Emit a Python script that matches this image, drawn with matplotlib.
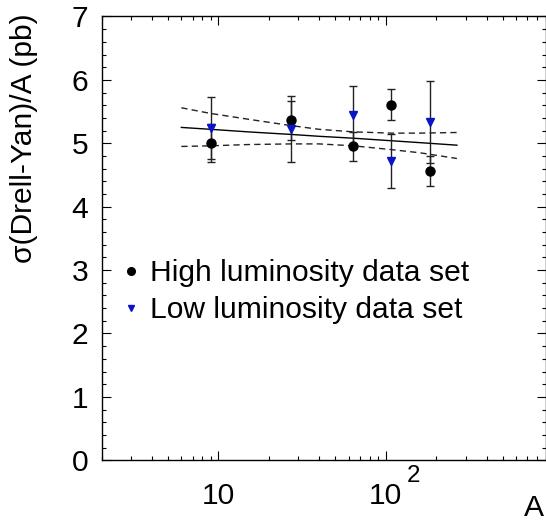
import numpy as np
import matplotlib
matplotlib.use("Agg")
import matplotlib.pyplot as plt
from matplotlib.ticker import LogLocator, NullFormatter, MultipleLocator, FixedLocator, FixedFormatter
from matplotlib.lines import Line2D

plt.rcParams['font.family'] = ['Liberation Sans', 'DejaVu Sans']

# ---- data ----
nuclei_A = [9.01, 26.98, 63.55, 107.87, 183.84]
high_lumi = [5.01, 5.36, 4.95, 5.61, 4.56]
high_err = [0.30, 0.31, 0.23, 0.25, 0.24]
low_lumi = [5.24, 5.22, 5.45, 4.72, 5.34]
low_err = [0.49, 0.52, 0.46, 0.43, 0.65]

fit_A = [6, 9, 15, 27, 40, 64, 108, 160, 266]
fit_central = [5.25, 5.22, 5.18, 5.14, 5.11, 5.08, 5.04, 5.01, 4.97]
fit_upper = [5.56, 5.47, 5.38, 5.28, 5.22, 5.18, 5.16, 5.16, 5.17]
fit_lower = [4.95, 4.96, 4.98, 4.99, 4.99, 4.96, 4.90, 4.85, 4.76]

x_ticks = [10, 100]
x_tick_labels = ["10", "10"]
legend_labels = ["High luminosity data set", "Low luminosity data set"]

FS = 21.6
BLUE = '#0a14c8'

fig = plt.figure(figsize=(5.46, 5.23), dpi=100)
ax = fig.add_axes([0.1859, 0.1199, 0.8132, 0.8486])

ax.plot(fit_A, fit_central, color='black', lw=1.0, zorder=2)
ax.plot(fit_A, fit_upper, color='#222222', lw=1.0, dashes=(4.5, 3), zorder=2)
ax.plot(fit_A, fit_lower, color='#222222', lw=1.0, dashes=(4.5, 3), zorder=2)

ax.errorbar(nuclei_A, high_lumi, yerr=high_err, fmt='none', ecolor='#222222',
            elinewidth=1.0, capsize=3.1, capthick=1.0, zorder=3)
ax.errorbar(nuclei_A, low_lumi, yerr=low_err, fmt='none', ecolor='#222222',
            elinewidth=1.0, capsize=3.1, capthick=1.0, zorder=3)
ax.plot(nuclei_A, high_lumi, 'o', color='black', ms=6.5, zorder=4)
ax.plot(nuclei_A, low_lumi, 'v', color=BLUE, ms=5.5, zorder=5)

ax.set_xscale('log')
ax.set_xlim(2, 900)
ax.set_ylim(0, 7)

ax.xaxis.set_major_locator(FixedLocator(x_ticks))
ax.xaxis.set_major_formatter(FixedFormatter(x_tick_labels))
ax.xaxis.set_minor_locator(LogLocator(base=10, subs=np.arange(2, 10)))
ax.xaxis.set_minor_formatter(NullFormatter())
ax.yaxis.set_major_locator(MultipleLocator(1))
ax.yaxis.set_minor_locator(MultipleLocator(0.2))

ax.tick_params(which='both', direction='in', top=True, right=True, width=0.8, colors='black')
ax.tick_params(which='major', length=6.5)
ax.tick_params(which='minor', length=3.2)
ax.tick_params(axis='x', which='major', labelsize=FS, pad=15.5)
ax.tick_params(axis='y', which='major', labelsize=FS, pad=9.5)
for s in ax.spines.values():
    s.set_linewidth(1.0)

# superscript of 10^2
ax.annotate("2", xy=(100, 0), xycoords=('data', 'axes fraction'),
            xytext=(15, -15.4), textcoords='offset points',
            ha='left', va='baseline', fontsize=17.4)

ax.set_ylabel("σ(Drell-Yan)/A (pb)", fontsize=FS, ha='right')
ax.yaxis.set_label_coords(-0.144, 1.007)

fig.text(544/546, 1.0/523, "A", ha='right', va='bottom', fontsize=FS)

handles = [Line2D([], [], ls='none', marker='o', color='black', ms=5.5),
           Line2D([], [], ls='none', marker='v', color=BLUE, ms=4.3)]
ax.legend(handles, legend_labels, loc='upper left', bbox_to_anchor=(0.046, 0.4525),
          frameon=False, fontsize=FS, handlelength=0.6, handletextpad=0.33,
          labelspacing=0.29, borderpad=0, borderaxespad=0)

fig.savefig("out.png", dpi=100)
